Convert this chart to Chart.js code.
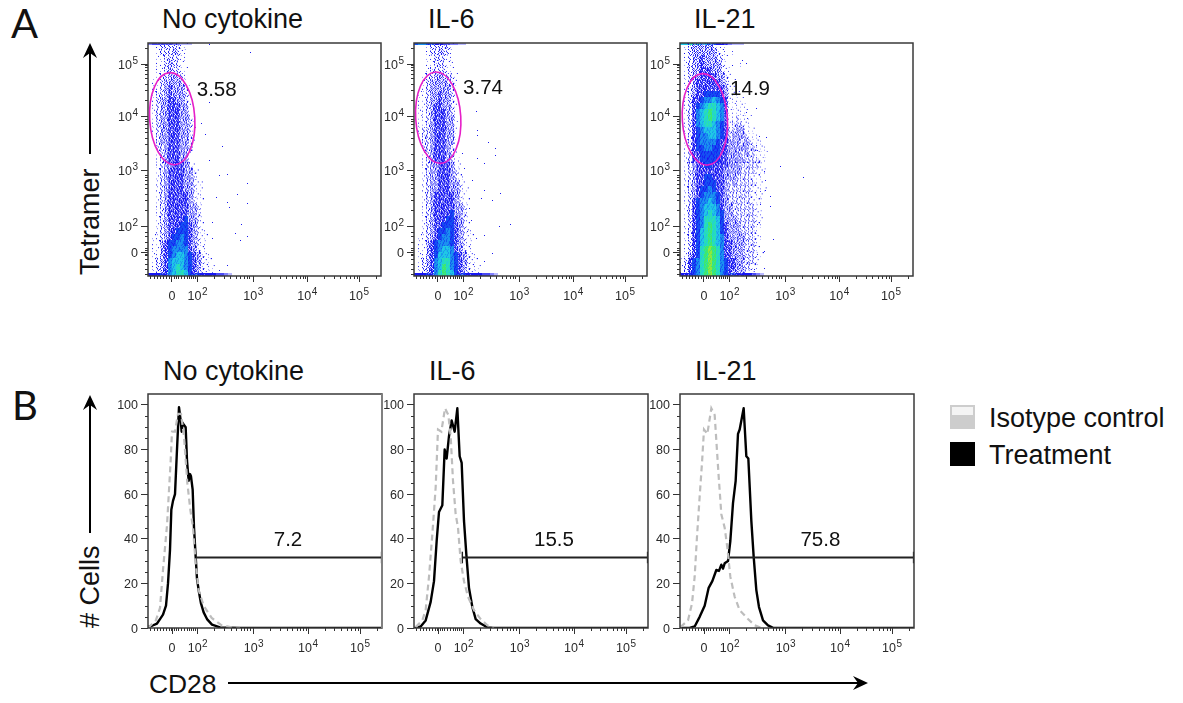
<!DOCTYPE html>
<html>
<head>
<meta charset="utf-8">
<title>Tetramer and CD28</title>
<style>
  html, body { margin: 0; padding: 0; background: #fff; }
  #page { position: relative; width: 1183px; height: 703px; overflow: hidden; }
  #page canvas { position: absolute; }
  #page canvas.dots { filter: blur(0.35px); }
  #page canvas.hist { filter: blur(0.25px); }
  #overlay { position: absolute; left: 0; top: 0; pointer-events: none; }
  #overlay text { font-family: "Liberation Sans", Arial, sans-serif; fill: #111; }
</style>
<script src="https://cdn.jsdelivr.net/npm/chart.js@4/dist/chart.umd.js"></script>
</head>
<body>
<div id="page"><svg id="overlay" width="1183" height="703"></svg></div>
<script>
// axes are in display channels, the flow plots are biexponential
const channelTicks = [0, 77, 245, 408, 564];
const channelLabels = ['0', '10²', '10³', '10⁴', '10⁵'];
const channelMin = -72;
const channelMax = 630;
const lowMinorX = [-66, -54, -45, -36, -27, -18, -10, -4, 5, 11, 19, 27, 36, 44, 52, 58, 64, 70];
const lowMinorY = [-66, -50, -36, -22, -10, -5, 5, 12, 30, 48, 62];
const decadeStarts = [77, 245, 408, 564];
const decadeMinor = [0.30, 0.48, 0.60, 0.70, 0.78, 0.85, 0.90, 0.95];
const countTicks = [0, 20, 40, 60, 80, 100];
const countMinor = [5, 10, 15, 25, 30, 35, 45, 50, 55, 65, 70, 75, 85, 90, 95];
const countMax = 104.9;

// density levels per cell, top row first, 0 = empty, 1-3 = speckle, 4+ = colour ramp
const a1Density = [
  '00122222110000000000000', '00122232110000000000000', '00112222110000000000000',
  '00112322100000000000000', '00112322110000000000000', '00122332210000000000000',
  '01123333210000000000000', '01123433321000000000000', '01223433321000000000000',
  '01233443321000000000000', '01233444331000000000000', '01233444331000000000000',
  '01233444332100000000000', '01233444332100000000000', '01233444332100000000000',
  '00233444332100000000000', '00233444332100000000000', '00223444332100000000000',
  '00123444331000000000000', '00123444331000000000000', '00123344432100000000000',
  '00123444433210000000000', '00123444433210000000000', '00123444433211000000000',
  '00123444433211000000000', '00123444443211000000000', '00123444443211000000000',
  '00123444443321000000000', '00123444443321000000000', '00123444453321000000000',
  '00123444554321000000000', '00123445554321100000000', '01123455654321100000000',
  '01134556654321100000000', '01134566664321100000000', '01134567765432110000000',
  '01234677765432110000000', '01234678765432111000000', '01234678875432111000000'
];
const a2Density = [
  '00012222210000000000000', '00012232210000000000000', '00011222110000000000000',
  '00011222110000000000000', '00012222110000000000000', '00122332221000000000000',
  '00123333221000000000000', '00123333321000000000000', '01123343321000000000000',
  '01123343321000000000000', '01123443321000000000000', '01123444321000000000000',
  '01123444331000000000000', '01123444331000000000000', '01223444331000000000000',
  '01223444331000000000000', '00223444331000000000000', '00223444321000000000000',
  '00123444321000000000000', '00123444321100000000000', '00123344431100000000000',
  '00123344432100000000000', '00123344432110000000000', '00123344433210000000000',
  '00123344433211000000000', '00123444443210000000000', '00123444443211000000000',
  '00123444443321000000000', '00123444453321000000000', '00123444554321000000000',
  '00123445554321000000000', '00123455654321100000000', '01123456654321100000000',
  '01134566654321100000000', '01134567764321100000000', '01134577765432110000000',
  '01234678865432110000000', '01234679865432111000000', '01234689875432111000000'
];
const a3Density = [
  '0123333321110000000000', '0123333332110100000000', '0123343332210000000000',
  '0123343333210001000000', '0123344433211000000000', '0123344443321000000000',
  '0123444444321100000000', '0123444444431100000000', '0123445555431110000000',
  '0124456676541111000000', '0124567887641111100000', '0124678987641111100000',
  '0124678987641121110000', '0124678876541222110000', '0124567776542233111000',
  '0124566776542333211100', '0124566665443332321110', '0124556655443333322111',
  '0124455555443332322111', '0124455555443333222211', '0123445544443332222210',
  '0123444444433332222111', '0123445544433322221110', '0123445554432322222110',
  '0123455654432222221111', '0123456665432222221110', '0124566765432222221110',
  '0124567776433222222100', '0124567876533222222110', '0124568887533322222110',
  '0124568987543332222110', '0124578987543332222100', '0124578987643333222110',
  '0124578987644333222100', '0124589a98644333222100', '0134589a98644333222110',
  '1245689a98654433222100', '1245689a98654433221100', '1245689a98654333211000'
];

// pile-up on the axes, one level per column
const a1BottomEdge = '444569cba976544443321';
const a2BottomEdge = '444569cba976544443321';
const a3BottomEdge = '44569bccba97654444321';
const a1TopEdge = '2333332211100';
const a2TopEdge = '5665544332211';
const a3TopEdge = '7788877654432111';

const a1StrayX = [113, 236, 113, 88, 100, 153, 113, 143, 168, 228, 198, 133, 168, 228, 173, 123, 211, 193, 208, 228, 123, 168, 143];
const a1StrayY = [625, 600, 450, 387, 353, 317, 277, 230, 235, 207, 175, 165, 150, 145, 135, 90, 83, 55, 35, 47, 40, -40, -55];
const a2StrayX = [115, 118, 118, 153, 175, 175, 140, 120, 105, 140, 190, 130, 165, 220, 185, 140, 115, 165, 140, 170, 95, 100, 90, 75, 80];
const a2StrayY = [423, 366, 351, 329, 313, 291, 266, 281, 216, 186, 176, 161, 156, 83, 76, 51, 41, -4, -29, -64, 131, 96, 61, 296, 251];
const a3StrayX = [87, 117, 127, 157, 127, 132, 167, 189, 157, 162, 230, 299, 182, 185, 172, 202, 187, 202, 172, 162, 210, 182, 162, 182, 152];
const a3StrayY = [562, 577, 567, 434, 422, 402, 347, 344, 322, 307, 257, 224, 242, 217, 182, 167, 187, 137, 142, 82, 37, 2, -8, -48, -53];

// histograms in panel B, % of max against CD28 channel
const b1TreatmentX = [-72, -60, -45, -36, -27, -18, -12, -6, -2, 3, 9, 15, 21, 26, 29, 32, 36, 41, 45, 50, 54, 57, 62, 66, 71, 75, 81, 87, 95, 105, 120, 144, 204, 630];
const b1TreatmentY = [0.5, 1, 2, 4, 6, 10, 20, 35, 53, 57, 60, 80, 99, 93, 88, 92, 91, 90, 75, 66, 69, 68, 62, 45, 32, 22, 16, 11, 7, 4, 1.5, 0.3, 0, 0];
const b1IsotypeX = [-72, -48, -36, -27, -15, -4, 0, 9, 18, 27, 36, 46, 55, 63, 71, 80, 95, 119, 148, 178, 204];
const b1IsotypeY = [0, 3.6, 9, 26, 46, 75, 88, 88, 96, 96, 86, 65, 53, 45, 29, 17, 10, 4.5, 1.3, 0.3, 0];
const b2TreatmentX = [-72, -67, -52, -37, -22, -12, -4, 3, 13, 20, 26, 33, 41, 50, 58, 65, 71, 78, 85, 93, 103, 113, 128, 148, 168, 630];
const b2TreatmentY = [0, 0, 0.7, 3.4, 11.7, 21, 39, 52, 55, 80, 76, 86, 93, 88, 98.5, 77, 74, 48, 33, 18, 9.4, 4, 2, 0.3, 0, 0];
const b2IsotypeX = [-67, -47, -37, -27, -17, -7, 0, 10, 21, 31, 38, 45, 53, 60, 68, 78, 90, 108, 128, 148, 168];
const b2IsotypeY = [0.4, 3.4, 8, 23, 42, 63, 89, 88, 98.5, 95.5, 86, 66, 51, 45, 30, 21, 14, 8, 4, 1.2, 0.1];
const b3TreatmentX = [-72, -43, -28, -13, 2, 14, 25, 37, 45, 52, 57, 62, 72, 79, 87, 95, 102, 107, 119, 127, 133, 142, 149, 157, 165, 177, 192, 207, 630];
const b3TreatmentY = [0, 0, 0.7, 5, 10, 18, 21, 26, 25.6, 28.4, 26.6, 29, 30, 39, 56, 66, 87, 89, 98.5, 77, 76, 48, 32, 17, 9.4, 3.4, 1.2, 0.1, 0];
const b3IsotypeX = [-71, -48, -36, -28, -21, -13, -6, 0, 10, 22, 32, 37, 44, 52, 62, 70, 79, 92, 107, 132, 152, 172];
const b3IsotypeY = [0.4, 3.4, 11, 23, 41, 59, 74, 89, 87, 98.5, 95.5, 84, 68, 51, 45, 36, 23, 14, 8, 4, 1.2, 0.1];

const gateLabels = ['3.58', '3.74', '14.9', '7.2', '15.5', '75.8'];

// one tile per density cell, '#' strong dot, '+' pale dot
const speckle = {
  1: ['........#...........+...', '.+..............#.......', '......#.........+.......', '...#............+.......'],
  2: ['.#...+..#...#....#..+..#', '#...#.....+.#...+..#...#', '..#.+...#....#....#..+..', '#....+....#.#....#...+.#'],
  3: ['#.+.#.#..+#.#..#+.#..+.#', '.#+..#.+#..#.+#.#..#+..#', '#..+.#+.#.+..#.#+.#..#.+', '.#.#+..#.+#..#+..#.#.+#.'],
  4: ['##+#.###+##.#+#.###+##.#', '#.##+#.###+#.##+###.+#.#', '+#.###+#.#+##.##+#.#+##.', '.##+#.###+#.##+#.##.#+#.']
};
const mixArt = ['#+##+###+##+#####+##+###', '###+##+#####+#+##+###+##', '+###+##+###+###+##+##+##', '##+###+##+###+##+###+#+#'];
// which of the four arts a cell uses, so neighbouring cells don't line up
const tileOrder = ['03120231', '21302013', '10231302', '32013120', '13021023', '20312130', '01230321', '31102203'];
const levelOrder = ['4', '5', '6', '7', '8', '9', 'a', 'b', 'c'];
const levelColors = { 4: '#1818f2', 5: '#1450f2', 6: '#1a92f0', 7: '#1fc8e6', 8: '#28e0b4', 9: '#3fe86c', a: '#90e83c', b: '#e0e020', c: '#f03010' };
const edgeColors = { 1: '#b8b8ff', 2: '#8080ff', 3: '#4a4af6' };
const paleDot = '#8f8fff';
const superDigit = { '²': '2', '³': '3', '⁴': '4', '⁵': '5' };

function makeCanvas(w, h) {
  const c = document.createElement('canvas');
  c.width = w;
  c.height = h;
  return c;
}

function artTile(art, strong, pale) {
  const c = makeCanvas(4, 6);
  const g = c.getContext('2d');
  [...art].forEach((ch, i) => {
    if (ch === '.') return;
    g.fillStyle = ch === '#' ? strong : pale;
    g.fillRect(i % 4, Math.floor(i / 4), 1, 1);
  });
  return c;
}

function solidTile(color, w, h) {
  const c = makeCanvas(w, h);
  const g = c.getContext('2d');
  g.fillStyle = color;
  g.fillRect(0, 0, w, h);
  return c;
}

const cellTiles = {};
Object.keys(speckle).forEach(k => { cellTiles[k] = speckle[k].map(a => artTile(a, levelColors[4], paleDot)); });
levelOrder.slice(1).forEach((k, i) => {
  cellTiles[k] = mixArt.map(a => artTile(a, levelColors[k], levelColors[levelOrder[i]]));
});
const edgeTiles = {};
Object.keys(levelColors).forEach(k => { edgeTiles[k] = solidTile(levelColors[k], 4, 3); });
Object.keys(edgeColors).forEach(k => { edgeTiles[k] = solidTile(edgeColors[k], 4, 3); });
const topEdgeTiles = {};
Object.keys(levelColors).forEach(k => { topEdgeTiles[k] = solidTile(levelColors[k], 4, 2); });
Object.keys(edgeColors).forEach(k => { topEdgeTiles[k] = solidTile(edgeColors[k], 4, 2); });
const strayTile = solidTile(levelColors[4], 1, 1);

const CELL_W = 12;
const CELL_H = 18;

function densityCells(rows) {
  const cells = [];
  rows.forEach((row, r) => {
    [...row].forEach((level, c) => {
      if (level === '0') return;
      cells.push({ x: channelMin + CELL_W / 2 + CELL_W * c, y: channelMax - CELL_H / 2 - CELL_H * r, level, c, r });
    });
  });
  return cells;
}

function edgeCells(levels, y) {
  const cells = [];
  [...levels].forEach((level, c) => {
    if (level === '0') return;
    cells.push({ x: channelMin + CELL_W / 2 + CELL_W * c, y, level });
  });
  return cells;
}

function zipPoints(xs, ys) {
  return xs.map((x, i) => ({ x, y: ys[i] }));
}

function cellTile(ctx) {
  const p = ctx.raw;
  if (!p) return 'rect';
  return cellTiles[p.level][Number(tileOrder[p.r % 8][p.c % 8])];
}

// chart.js can't raise part of a tick label, so the labels are written here
function drawTickLabel(ctx, label, x, baseline, alignRight) {
  const last = label[label.length - 1];
  const exp = superDigit[last];
  const base = exp ? label.slice(0, -1) : label;
  ctx.font = '12.5px "Liberation Sans", Arial, sans-serif';
  const baseW = ctx.measureText(base).width;
  ctx.font = '10px "Liberation Sans", Arial, sans-serif';
  const expW = exp ? ctx.measureText(exp).width + 0.5 : 0;
  const start = alignRight ? x - baseW - expW : x - (baseW + expW) / 2;
  ctx.textAlign = 'left';
  ctx.textBaseline = 'alphabetic';
  ctx.font = '12.5px "Liberation Sans", Arial, sans-serif';
  ctx.fillText(base, start, baseline);
  if (exp) {
    ctx.font = '10px "Liberation Sans", Arial, sans-serif';
    ctx.fillText(exp, start + baseW + 0.5, baseline - 5.5);
  }
}

const frameAndMinorTicks = {
  id: 'frameAndMinorTicks',
  afterDatasetsDraw(chart) {
    const { ctx, chartArea: a, scales } = chart;
    const cfg = chart.options.plugins.frameAndMinorTicks;
    ctx.save();
    ctx.strokeStyle = '#333';
    ctx.lineWidth = 1;
    ctx.beginPath();
    cfg.minorX.forEach(v => {
      const px = Math.round(scales.x.getPixelForValue(v)) + 0.5;
      ctx.moveTo(px, a.bottom);
      ctx.lineTo(px, a.bottom + 3);
    });
    cfg.minorY.forEach(v => {
      const py = Math.round(scales.y.getPixelForValue(v)) + 0.5;
      ctx.moveTo(a.left, py);
      ctx.lineTo(a.left - 3, py);
    });
    ctx.stroke();
    ctx.strokeStyle = '#3a3a3a';
    ctx.lineWidth = 1.5;
    ctx.strokeRect(a.left, a.top, a.right - a.left, a.bottom - a.top);
    if (cfg.greyRight) {
      ctx.strokeStyle = '#808080';
      ctx.lineWidth = 2;
      ctx.beginPath();
      ctx.moveTo(a.right, a.top);
      ctx.lineTo(a.right, a.bottom);
      ctx.stroke();
    }
    ctx.fillStyle = '#2a2a2a';
    scales.x.ticks.forEach(t => drawTickLabel(ctx, t.label, scales.x.getPixelForValue(t.value), a.bottom + 24, false));
    scales.y.ticks.forEach(t => drawTickLabel(ctx, t.label, a.left - 10, scales.y.getPixelForValue(t.value) + 4.5, true));
    ctx.restore();
  }
};

const gatePlugin = {
  id: 'gatePlugin',
  afterDatasetsDraw(chart) {
    const cfg = chart.options.plugins.gatePlugin;
    const { ctx, scales } = chart;
    ctx.save();
    if (cfg.ellipse) {
      const e = cfg.ellipse;
      const cx = scales.x.getPixelForValue(e.x);
      const cy = scales.y.getPixelForValue(e.y);
      const rx = scales.x.getPixelForValue(e.x + e.rx) - cx;
      const ry = cy - scales.y.getPixelForValue(e.y + e.ry);
      ctx.strokeStyle = '#e61fc8';
      ctx.lineWidth = 1.6;
      ctx.beginPath();
      ctx.ellipse(cx, cy, rx, ry, e.tilt, 0, Math.PI * 2);
      ctx.stroke();
    }
    ctx.fillStyle = '#111';
    ctx.font = '20.5px "Liberation Sans", Arial, sans-serif';
    ctx.textAlign = 'center';
    ctx.textBaseline = 'middle';
    ctx.fillText(cfg.label, scales.x.getPixelForValue(cfg.labelX), scales.y.getPixelForValue(cfg.labelY));
    ctx.restore();
  }
};

function withDecades() {
  const out = [];
  decadeStarts.forEach(d => decadeMinor.forEach(m => {
    const v = d + m * 165;
    if (v < channelMax) out.push(v);
  }));
  return out;
}

const LEFT_GUTTER = 40;
const BOTTOM_GUTTER = 40;
const EDGE_PAD = 4;
const FRAME_SIZE = 234;

function tickAxis(min, max, values, labels, fixed, tickLength) {
  return {
    type: 'linear',
    min,
    max,
    afterBuildTicks(scale) { scale.ticks = values.map(value => ({ value })); },
    afterFit(scale) {
      if (scale.isHorizontal()) scale.height = fixed;
      else scale.width = fixed;
      // labels near the frame ends must not push the plot area in
      scale.paddingTop = scale.paddingBottom = scale.paddingLeft = scale.paddingRight = 0;
    },
    border: { display: false },
    grid: { drawOnChartArea: false, drawTicks: true, tickLength, color: '#333', lineWidth: 1 },
    ticks: {
      display: false,
      autoSkip: false,
      maxRotation: 0,
      callback(v) { return labels[values.indexOf(v)]; }
    }
  };
}

function makePanel(left, top, cls, datasets, y, minorY, gate, greyRight) {
  const canvas = document.createElement('canvas');
  canvas.className = cls;
  canvas.width = LEFT_GUTTER + FRAME_SIZE + EDGE_PAD;
  canvas.height = EDGE_PAD + FRAME_SIZE + BOTTOM_GUTTER;
  canvas.style.left = (left - LEFT_GUTTER) + 'px';
  canvas.style.top = (top - EDGE_PAD) + 'px';
  document.getElementById('page').appendChild(canvas);
  return new Chart(canvas, {
    type: 'scatter',
    data: { datasets },
    plugins: [frameAndMinorTicks, gatePlugin],
    options: {
      responsive: false,
      animation: false,
      events: [],
      layout: { padding: { top: EDGE_PAD, right: EDGE_PAD, left: 0, bottom: 0 } },
      scales: {
        x: tickAxis(channelMin, channelMax, channelTicks, channelLabels, BOTTOM_GUTTER, 6),
        y
      },
      plugins: {
        legend: { display: false },
        tooltip: { enabled: false },
        frameAndMinorTicks: { minorX: lowMinorX.concat(withDecades()), minorY, greyRight },
        gatePlugin: gate
      }
    }
  });
}

function dotPlot(left, top, rows, bottomEdge, topEdge, strayX, strayY, gate) {
  const datasets = [
    { data: densityCells(rows), pointStyle: cellTile, pointRadius: 2 },
    { data: edgeCells(bottomEdge, channelMin + 5), pointStyle: ctx => ctx.raw ? edgeTiles[ctx.raw.level] : 'rect', pointRadius: 2 },
    { data: edgeCells(topEdge, channelMax - 4), pointStyle: ctx => ctx.raw ? topEdgeTiles[ctx.raw.level] : 'rect', pointRadius: 2 },
    { data: zipPoints(strayX, strayY), pointStyle: strayTile, pointRadius: 2 }
  ];
  const y = tickAxis(channelMin, channelMax, channelTicks, channelLabels, LEFT_GUTTER, 7);
  makePanel(left, top, 'dots', datasets, y, lowMinorY.concat(withDecades()), gate, false);
}

function histogram(left, top, treatX, treatY, isoX, isoY, gateStart, capLeft, greyRight, gate) {
  const gateLine = zipPoints([gateStart, channelMax], [31.6, 31.6]);
  const caps = [
    { x: channelMax - 1, y: 29 }, { x: channelMax - 1, y: 34.2 }
  ];
  const datasets = [
    { data: zipPoints(isoX, isoY), showLine: true, pointRadius: 0, borderColor: '#bdbdbd', borderWidth: 2.2, borderDash: [6, 4] },
    { data: gateLine, showLine: true, pointRadius: 0, borderColor: '#222', borderWidth: 1.8 },
    { data: caps, showLine: true, pointRadius: 0, borderColor: '#222', borderWidth: 1.6 }
  ];
  if (capLeft) {
    datasets.push({ data: [{ x: gateStart, y: 29 }, { x: gateStart, y: 34.2 }], showLine: true, pointRadius: 0, borderColor: '#222', borderWidth: 1.4 });
  }
  datasets.push({ data: zipPoints(treatX, treatY), showLine: true, pointRadius: 0, borderColor: '#000', borderWidth: 2.4, borderJoinStyle: 'round' });
  const labels = countTicks.map(String);
  const y = tickAxis(0, countMax, countTicks, labels, LEFT_GUTTER, 7);
  makePanel(left, top, 'hist', datasets, y, countMinor, gate, greyRight);
}

dotPlot(148, 42, a1Density, a1BottomEdge, a1TopEdge, a1StrayX, a1StrayY,
  { label: gateLabels[0], labelX: 135, labelY: 488, ellipse: { x: 1, y: 402, rx: 68, ry: 139, tilt: -0.06 } });
dotPlot(414, 42, a2Density, a2BottomEdge, a2TopEdge, a2StrayX, a2StrayY,
  { label: gateLabels[1], labelX: 136, labelY: 494, ellipse: { x: 1, y: 405, rx: 68, ry: 138, tilt: -0.06 } });
dotPlot(680, 42, a3Density, a3BottomEdge, a3TopEdge, a3StrayX, a3StrayY,
  { label: gateLabels[2], labelX: 139, labelY: 489, ellipse: { x: 3, y: 400, rx: 68, ry: 138, tilt: -0.06 } });

histogram(148, 394, b1TreatmentX, b1TreatmentY, b1IsotypeX, b1IsotypeY, 72, false, true, { label: gateLabels[3], labelX: 348, labelY: 39.5 });
histogram(414, 394, b2TreatmentX, b2TreatmentY, b2IsotypeX, b2IsotypeY, 73, true, false, { label: gateLabels[4], labelX: 348, labelY: 39.5 });
histogram(680, 394, b3TreatmentX, b3TreatmentY, b3IsotypeX, b3IsotypeY, 72, false, false, { label: gateLabels[5], labelX: 349, labelY: 39.5 });

// everything outside the plot frames
function arrowHead(x, y, dir) {
  if (dir === 'up') return `M${x - 7} ${y + 15} L${x} ${y} L${x + 7} ${y + 15} L${x} ${y + 10} Z`;
  return `M${x - 15} ${y - 7} L${x} ${y} L${x - 15} ${y + 7} L${x - 10} ${y} Z`;
}

const titleText = (s, x, y) => `<text x="${x}" y="${y}" font-size="27">${s}</text>`;
document.getElementById('overlay').innerHTML = [
  `<text x="11" y="38" font-size="40" style="font-family:Lato">A</text>`,
  `<text x="12" y="420" font-size="40" style="font-family:Lato">B</text>`,
  titleText('No cytokine', 162, 28), titleText('IL-6', 428, 28), titleText('IL-21', 694, 28),
  titleText('No cytokine', 163, 380), titleText('IL-6', 429, 380), titleText('IL-21', 695, 380),
  `<text transform="translate(99 275) rotate(-90)" font-size="27">Tetramer</text>`,
  `<text transform="translate(99 628) rotate(-90)" font-size="27"># Cells</text>`,
  `<text x="149" y="693" font-size="26.4">CD28</text>`,
  `<path d="M90 154V48M90 533V400M228 683H860" stroke="#000" stroke-width="2" fill="none"/>`,
  `<path d="${arrowHead(90, 43, 'up')}${arrowHead(90, 395, 'up')}${arrowHead(868, 683, 'right')}" fill="#000"/>`,
  `<rect x="950" y="405" width="25" height="24" fill="#cdcdcd"/>`,
  `<rect x="952" y="407" width="21" height="8" fill="#f4f4f4"/>`,
  `<rect x="950" y="442" width="25" height="24" fill="#000"/>`,
  `<text x="989" y="427" font-size="27">Isotype control</text>`,
  `<text x="989" y="464" font-size="27">Treatment</text>`
].join('');
</script>
</body>
</html>
